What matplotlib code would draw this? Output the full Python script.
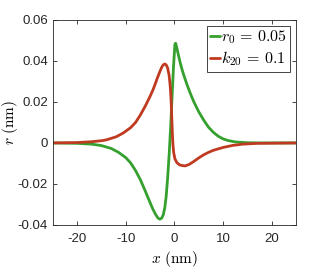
import matplotlib
matplotlib.use("Agg")
import matplotlib.pyplot as plt

# Data
x_green = [-25, -20, -17, -15, -13, -11.5, -10, -9, -8, -7, -6, -5, -4.4, -3.8, -3.4, -3.0,
           -2.6, -2.3, -2.0, -1.7, -1.4, -1.1, -0.8, -0.5, -0.2, 0.1, 0.25, 0.5, 0.8, 1.2,
           1.6, 2.0, 2.5, 3, 3.5, 4, 5, 6, 7, 8, 9, 10, 11, 12.5, 15, 18, 25]
y_green = [0, -0.0002, -0.0006, -0.0013, -0.0027, -0.0046, -0.0072, -0.0098, -0.0135, -0.0180,
           -0.0235, -0.0292, -0.0325, -0.0352, -0.0366, -0.0372, -0.0366, -0.0350, -0.0318,
           -0.0260, -0.0170, -0.0060, 0.0070, 0.0220, 0.0370, 0.0483, 0.0486, 0.0462, 0.0430,
           0.0390, 0.0355, 0.0325, 0.0290, 0.0258, 0.0228, 0.0200, 0.0152, 0.0112, 0.0077,
           0.0052, 0.0033, 0.0020, 0.0012, 0.0005, 0.0001, 0.0, 0]

x_red = [-25, -20, -17, -15, -14, -12, -10.5, -9, -8, -7, -6, -5, -4.4, -4, -3.5, -3, -2.6,
         -2.3, -2.0, -1.7, -1.4, -1.1, -0.9, -0.75, -0.62, -0.5, -0.4, -0.3, -0.15, 0.1,
         0.5, 1.0, 1.5, 2.2, 3, 4, 5, 6, 7, 8, 10, 12, 14, 17, 25]
y_red = [0, 0.0002, 0.0006, 0.0011, 0.0015, 0.0030, 0.0049, 0.0075, 0.0100, 0.0137, 0.0180,
         0.0228, 0.0260, 0.0285, 0.0318, 0.0348, 0.0370, 0.0381, 0.0385, 0.0381, 0.0365,
         0.0330, 0.0285, 0.0235, 0.0170, 0.0090, 0.0030, -0.0010, -0.0048, -0.0078,
         -0.0096, -0.0106, -0.0110, -0.0112, -0.0105, -0.0090, -0.0073, -0.0058, -0.0046,
         -0.0036, -0.0022, -0.0012, -0.0006, -0.0002, 0]

labels = [r"$r_0\,=\,0.05$", r"$k_{20}\,=\,0.1$"]
x_ticks = [-20, -10, 0, 10, 20]
x_ticklabels = ["-20", "-10", "0", "10", "20"]
y_ticks = [-0.04, -0.02, 0, 0.02, 0.04, 0.06]
y_ticklabels = ["-0.04", "-0.02", "0", "0.02", "0.04", "0.06"]

plt.rcParams["mathtext.fontset"] = "cm"
plt.rcParams["font.family"] = ["Liberation Sans", "DejaVu Sans"]

fig = plt.figure(figsize=(3.27, 2.73), dpi=100)
ax = fig.add_axes([0.162, 0.176, 0.743, 0.751])

green = "#35A02E"
red = "#BF3A20"
ax.plot(x_green, y_green, color=green, lw=2.0, label=labels[0],
        solid_capstyle="round", solid_joinstyle="round")
ax.plot(x_red, y_red, color=red, lw=2.0, label=labels[1],
        solid_capstyle="round", solid_joinstyle="round")

ax.set_xlim(-25, 25)
ax.set_ylim(-0.04, 0.06)
ax.set_xticks(x_ticks)
ax.set_xticklabels(x_ticklabels)
ax.set_yticks(y_ticks)
ax.set_yticklabels(y_ticklabels)

axcol = "#262626"
for s in ax.spines.values():
    s.set_color(axcol)
    s.set_linewidth(0.6)
ax.tick_params(direction="in", length=3, width=0.6, top=True, right=True,
               labelsize=9.5, colors=axcol)
ax.tick_params(axis="x", pad=6)
ax.tick_params(axis="y", pad=3.5)

ax.set_xlabel(r"$x\ (\mathrm{nm})$", fontsize=11, labelpad=3)
ax.set_ylabel(r"$r\ (\mathrm{nm})$", fontsize=11, labelpad=-1.5)

leg = ax.legend(loc="upper right", fontsize=11.5, handlelength=0.6, handletextpad=0.1,
                borderpad=0.2, labelspacing=0.2, borderaxespad=0.35, fancybox=False,
                framealpha=1)
leg.get_frame().set_edgecolor(axcol)
leg.get_frame().set_linewidth(0.6)

fig.savefig("out.png", dpi=100)
